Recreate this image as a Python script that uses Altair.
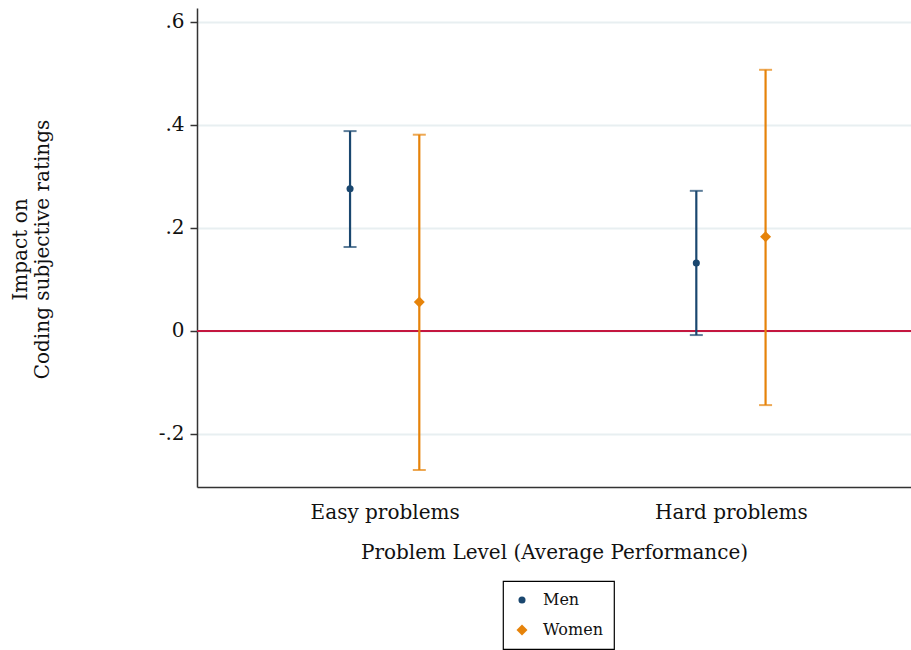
import altair as alt
import pandas as pd

# Estimated effects with 95% confidence intervals
groups = ["Easy problems", "Hard problems"]
sexes = ["Men", "Women"]
estimate = {"Men": [0.276, 0.132], "Women": [0.056, 0.183]}
lower = {"Men": [0.163, -0.008], "Women": [-0.270, -0.144]}
upper = {"Men": [0.388, 0.272], "Women": [0.381, 0.507]}

colors = ["#1a476f", "#e6830a"]
shapes = ["circle", "diamond"]
marker_sizes = [50, 120]

rows = []
for s in sexes:
    for i, g in enumerate(groups):
        rows.append({"group": g, "gidx": i + 1, "sex": s,
                     "est": estimate[s][i], "lo": lower[s][i], "hi": upper[s][i]})
df = pd.DataFrame(rows)

FONT = "DejaVu Serif"

label_expr = " : ".join(
    f"datum.value == {i + 1} ? '{g}'" for i, g in enumerate(groups)
) + " : ''"

x_enc = alt.X(
    "pos:Q",
    scale=alt.Scale(domain=[0.458, 2.52], nice=False, zero=False),
    axis=alt.Axis(values=[1, 2], labelExpr=label_expr, ticks=False, grid=False,
                  title="Problem Level (Average Performance)",
                  labelPadding=15, titlePadding=20),
)
y_scale = alt.Scale(domain=[-0.303, 0.627], nice=False, zero=False)
y_axis = alt.Axis(
    values=[-0.2, 0, 0.2, 0.4, 0.6],
    labelExpr="datum.value == 0 ? '0' : (datum.value < 0 ? '-' : '') + "
              "replace(format(abs(datum.value), '.1f'), '0.', '.')",
    title=["Impact on", "Coding subjective ratings"],
    titleAngle=-90, titleX=-177, titleY=241, titleAlign="center",
    titleBaseline="middle",
    tickSize=7, labelPadding=6,
    grid=True, gridColor="#e8eff1", gridWidth=2,
)
color_scale = alt.Scale(domain=sexes, range=colors)
shape_scale = alt.Scale(domain=sexes, range=shapes)

base = alt.Chart(df).transform_calculate(
    pos="datum.gidx + (datum.sex == 'Men' ? -0.1 : 0.1)"
)

zero_line = alt.Chart(pd.DataFrame({"y": [0]})).mark_rule(
    color="#c4173f", strokeWidth=2
).encode(y=alt.Y("y:Q", scale=y_scale, axis=y_axis))

bars = base.mark_rule(strokeWidth=2.2).encode(
    x=x_enc,
    y=alt.Y("lo:Q", scale=y_scale, axis=y_axis),
    y2="hi:Q",
    color=alt.Color("sex:N", scale=color_scale, legend=None),
)

caps_lo = base.mark_tick(orient="horizontal", size=13, thickness=2).encode(
    x=x_enc, y=alt.Y("lo:Q", scale=y_scale),
    color=alt.Color("sex:N", scale=color_scale, legend=None),
)
caps_hi = base.mark_tick(orient="horizontal", size=13, thickness=2).encode(
    x=x_enc, y=alt.Y("hi:Q", scale=y_scale),
    color=alt.Color("sex:N", scale=color_scale, legend=None),
)

legend = alt.Legend(title=None, orient="none", legendX=306, legendY=573)
points = base.mark_point(filled=True, opacity=1).encode(
    x=x_enc,
    y=alt.Y("est:Q", scale=y_scale),
    color=alt.Color("sex:N", scale=color_scale, legend=legend),
    shape=alt.Shape("sex:N", scale=shape_scale, legend=legend),
    size=alt.Size("sex:N", scale=alt.Scale(domain=sexes, range=marker_sizes),
                  legend=None),
)

chart = alt.layer(zero_line, bars, caps_lo, caps_hi, points).resolve_legend(
    color="independent", shape="independent", size="independent"
).properties(
    width=714, height=479,
    autosize=alt.AutoSizeParams(type="none"),
    padding={"left": 197, "top": 8, "right": 0, "bottom": 163},
).configure(font=FONT).configure_view(stroke=None).configure_axis(
    labelFont=FONT, titleFont=FONT, labelFontSize=20, titleFontSize=20,
    labelColor="#111", titleColor="#111", titleFontWeight="normal",
    domainColor="#333", domainWidth=1.5, tickColor="#333", tickWidth=1.5,
).configure_legend(
    labelFont=FONT, labelFontSize=16, labelColor="#111",
    strokeColor="#000", strokeWidth=1.2, padding=11,
    symbolSize=45, rowPadding=14, labelOffset=13, fillColor="white",
)

chart.save("out.html", embed_options={"renderer": "svg", "actions": False})
